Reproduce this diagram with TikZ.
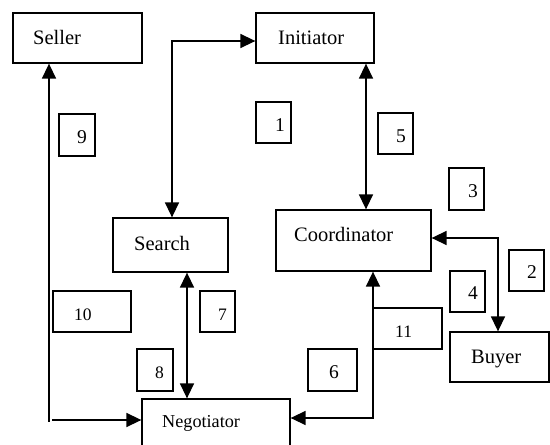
\documentclass[tikz,border=0pt]{standalone}
\usepackage{fontspec}
\setmainfont{Liberation Serif}
\usetikzlibrary{arrows.meta}
\begin{document}
\begin{tikzpicture}[x=1pt,y=-1pt,
  box/.style={draw, line width=1.3pt, inner sep=0pt},
  lbl/.style={anchor=base west, inner sep=0pt, font=\fontsize{20.5}{24}\selectfont},
  nlbl/.style={anchor=base west, inner sep=0pt, font=\fontsize{19.5}{22}\selectfont},
  slbl/.style={anchor=base west, inner sep=0pt, font=\fontsize{17.5}{20}\selectfont},
  tip/.style={Triangle[length=15pt,width=14pt]},
  dbl/.style={line width=1.5pt, {Triangle[length=15pt,width=14pt]}-{Triangle[length=15pt,width=14pt]}},
  sgl/.style={line width=1.5pt}]
\useasboundingbox (0,0) rectangle (550,445);
\fill[white] (0,0) rectangle (550,445);
% main boxes
\node[box, minimum width=129pt, minimum height=50pt] (seller) at (77.5,38) {};
\node[box, minimum width=118pt, minimum height=50pt] (initiator) at (315,38) {};
\node[box, minimum width=115pt, minimum height=54pt] (search) at (170.5,245) {};
\node[box, minimum width=155pt, minimum height=61pt] (coordinator) at (353.5,240.5) {};
\node[box, minimum width=99pt, minimum height=50pt] (buyer) at (499.5,357) {};
\node[box, minimum width=148pt, minimum height=62pt] (negotiator) at (216,430) {};
\node[lbl] (tseller) at (33,44) {Seller};
\node[lbl] (tinitiator) at (278,44) {Initiator};
\node[lbl] (tsearch) at (134,250) {Search};
\node[lbl] (tcoordinator) at (294,241) {Coordinator};
\node[lbl] (tbuyer) at (471,363) {Buyer};
\node[anchor=base west, inner sep=0pt, font=\fontsize{18.2}{22}\selectfont] (tnegotiator) at (162,427) {Negotiator};
% number boxes
\node[box, minimum width=35pt, minimum height=41pt] (b1) at (273.5,122.5) {};
\node[box, minimum width=36pt, minimum height=42pt] (b9) at (77,135) {};
\node[box, minimum width=35pt, minimum height=41pt] (b5) at (395.5,133.5) {};
\node[box, minimum width=35pt, minimum height=42pt] (b3) at (466.5,189) {};
\node[box, minimum width=78pt, minimum height=41pt] (b10) at (92,311.5) {};
\node[box, minimum width=35pt, minimum height=41pt] (b7) at (217.5,311.5) {};
\node[box, minimum width=36pt, minimum height=42pt] (b8) at (155,370) {};
\node[box, minimum width=35pt, minimum height=41pt] (b2) at (526.5,270.5) {};
\node[box, minimum width=35pt, minimum height=41pt] (b4) at (467.5,291.5) {};
\node[box, minimum width=69pt, minimum height=41pt] (b11) at (407.5,328.5) {};
\node[box, minimum width=49pt, minimum height=42pt] (b6) at (332.5,370) {};
\node[nlbl] (t1) at (275,131) {1};
\node[nlbl] (t9) at (77,143) {9};
\node[nlbl] (t5) at (396,142) {5};
\node[nlbl] (t3) at (468,197) {3};
\node[slbl] (t10) at (74,320) {10};
\node[slbl] (t7) at (218,320) {7};
\node[slbl] (t8) at (155,378) {8};
\node[nlbl] (t2) at (527,278) {2};
\node[nlbl] (t4) at (468,299) {4};
\node[slbl] (t11) at (395,337) {11};
\node[nlbl] (t6) at (329,378) {6};
% connectors
\coordinate (c1) at (172,41);
\coordinate (c2) at (366,0);
\coordinate (c3) at (498,238);
\coordinate (c4) at (187,0);
\coordinate (c5) at (373,418);
\coordinate (sv) at (49,422);
\coordinate (sh) at (52,420);
\draw[dbl] (c1 |- search.north) |- (c1 -| initiator.west);
\draw[dbl] (c2 |- initiator.south) -- (c2 |- coordinator.north);
\draw[dbl] (c3 -| coordinator.east) -| (c3 |- buyer.north);
\draw[dbl] (c4 |- search.south) -- (c4 |- negotiator.north);
\draw[dbl] (c5 -| negotiator.east) -| (c5 |- coordinator.south);
\draw[sgl, {Triangle[length=15pt,width=14pt]}-] (sv |- seller.south) -- (sv);
\draw[sgl, -{Triangle[length=15pt,width=14pt]}] (sh) -- (sh -| negotiator.west);
\end{tikzpicture}
\end{document}
